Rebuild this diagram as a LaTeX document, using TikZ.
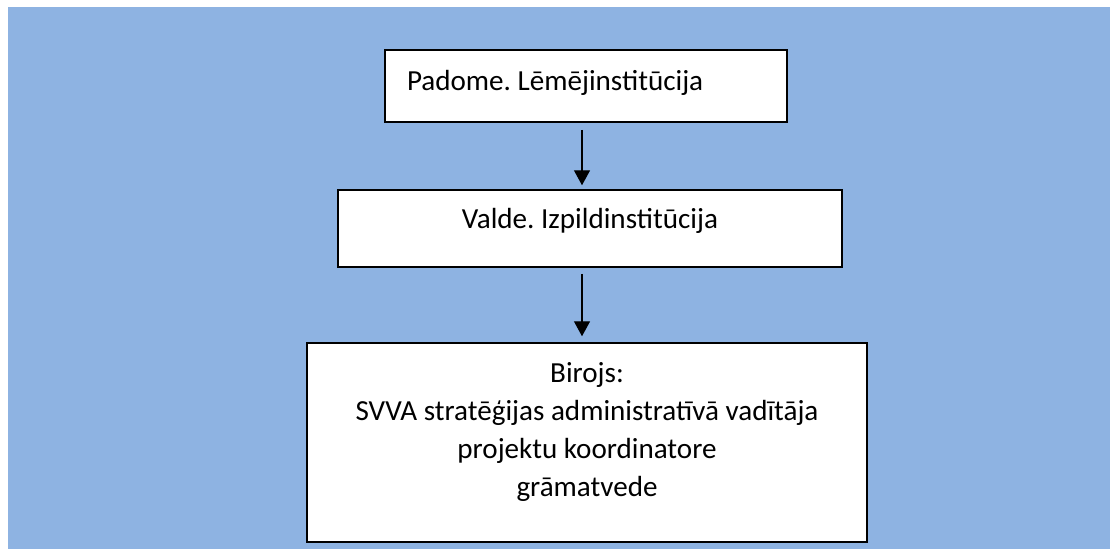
\documentclass[tikz,border=0pt]{standalone}
\usepackage{fontspec}
\setmainfont{Carlito}
\usetikzlibrary{arrows.meta}
\definecolor{skyblue}{RGB}{142,179,226}
\frenchspacing

\begin{document}
\begin{tikzpicture}[x=1pt,y=-1pt]
\tikzstyle{box}=[rectangle,draw=black,line width=1.5pt,fill=white,inner ysep=0pt,font=\fontsize{29.1}{38}\selectfont]
\tikzstyle{arr}=[line width=1.4pt,-{Triangle[length=15pt,width=16pt]}]
\useasboundingbox (0,0) rectangle (1110,549);
\fill[skyblue] (8,7) rectangle (1110,549);
\node[box,inner xsep=22pt,text width=358pt,align=flush left,text height=40pt,text depth=32pt] (padome) at (586,86) {Padome. Lēmējinstitūcija};
\node[box,inner xsep=10pt,text width=484pt,align=flush center,text height=38pt,text depth=39pt] (valde) at (590,228.5) {Valde. Izpildinstitūcija};
\node[box,inner xsep=10pt,text width=540pt,align=flush center,text height=39pt,text depth=160pt] (birojs) at (587,442.5)
 {Birojs:\\
  SVVA stratēģijas administratīvā vadītāja\hspace*{6pt}\\
  projektu koordinatore\\
  grāmatvede};
\draw[arr,shorten <=7pt,shorten >=4pt] ([xshift=-4pt]padome.south) -- ([xshift=-8pt]valde.north);
\draw[arr,shorten <=6pt,shorten >=6pt] ([xshift=-8pt]valde.south) -- ([xshift=-5pt]birojs.north);
\end{tikzpicture}
\end{document}
